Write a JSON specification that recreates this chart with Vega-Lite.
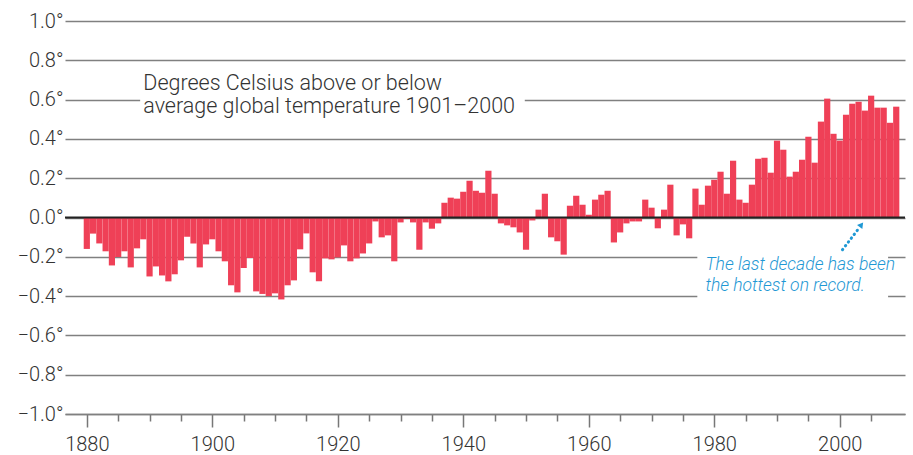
{
  "$schema": "https://vega.github.io/schema/vega-lite/v6.json",
  "width": 840,
  "height": 393,
  "autosize": "none",
  "padding": {"left": 65, "top": 21, "right": 8, "bottom": 41},
  "config": {"view": {"stroke": null}, "font": "Roboto"},
  "datasets": {
    "temps": [
      {"year":1880,"v":-0.160},{"year":1881,"v":-0.082},{"year":1882,"v":-0.132},{"year":1883,"v":-0.172},{"year":1884,"v":-0.244},
      {"year":1885,"v":-0.201},{"year":1886,"v":-0.172},{"year":1887,"v":-0.254},{"year":1888,"v":-0.157},{"year":1889,"v":-0.111},
      {"year":1890,"v":-0.300},{"year":1891,"v":-0.249},{"year":1892,"v":-0.295},{"year":1893,"v":-0.325},{"year":1894,"v":-0.289},
      {"year":1895,"v":-0.218},{"year":1896,"v":-0.098},{"year":1897,"v":-0.132},{"year":1898,"v":-0.254},{"year":1899,"v":-0.137},
      {"year":1900,"v":-0.111},{"year":1901,"v":-0.172},{"year":1902,"v":-0.223},{"year":1903,"v":-0.345},{"year":1904,"v":-0.381},
      {"year":1905,"v":-0.257},{"year":1906,"v":-0.206},{"year":1907,"v":-0.376},{"year":1908,"v":-0.389},{"year":1909,"v":-0.400},
      {"year":1910,"v":-0.386},{"year":1911,"v":-0.417},{"year":1912,"v":-0.345},{"year":1913,"v":-0.320},{"year":1914,"v":-0.162},
      {"year":1915,"v":-0.081},{"year":1916,"v":-0.279},{"year":1917,"v":-0.325},{"year":1918,"v":-0.208},{"year":1919,"v":-0.213},
      {"year":1920,"v":-0.203},{"year":1921,"v":-0.142},{"year":1922,"v":-0.223},{"year":1923,"v":-0.208},{"year":1924,"v":-0.183},
      {"year":1925,"v":-0.132},{"year":1926,"v":-0.020},{"year":1927,"v":-0.101},{"year":1928,"v":-0.091},{"year":1929,"v":-0.223},
      {"year":1930,"v":-0.025},{"year":1931,"v":-0.008},{"year":1932,"v":-0.025},{"year":1933,"v":-0.164},{"year":1934,"v":-0.025},
      {"year":1935,"v":-0.057},{"year":1936,"v":-0.030},{"year":1937,"v":0.075},{"year":1938,"v":0.101},{"year":1939,"v":0.096},
      {"year":1940,"v":0.131},{"year":1941,"v":0.187},{"year":1942,"v":0.136},{"year":1943,"v":0.126},{"year":1944,"v":0.238},
      {"year":1945,"v":0.121},{"year":1946,"v":-0.030},{"year":1947,"v":-0.040},{"year":1948,"v":-0.050},{"year":1949,"v":-0.076},
      {"year":1950,"v":-0.164},{"year":1951,"v":-0.015},{"year":1952,"v":0.040},{"year":1953,"v":0.121},{"year":1954,"v":-0.101},
      {"year":1955,"v":-0.121},{"year":1956,"v":-0.189},{"year":1957,"v":0.060},{"year":1958,"v":0.111},{"year":1959,"v":0.065},
      {"year":1960,"v":0.014},{"year":1961,"v":0.091},{"year":1962,"v":0.116},{"year":1963,"v":0.136},{"year":1964,"v":-0.127},
      {"year":1965,"v":-0.076},{"year":1966,"v":-0.030},{"year":1967,"v":-0.020},{"year":1968,"v":-0.020},{"year":1969,"v":0.091},
      {"year":1970,"v":0.050},{"year":1971,"v":-0.055},{"year":1972,"v":0.040},{"year":1973,"v":0.167},{"year":1974,"v":-0.091},
      {"year":1975,"v":-0.035},{"year":1976,"v":-0.106},{"year":1977,"v":0.147},{"year":1978,"v":0.065},{"year":1979,"v":0.162},
      {"year":1980,"v":0.192},{"year":1981,"v":0.233},{"year":1982,"v":0.121},{"year":1983,"v":0.289},{"year":1984,"v":0.091},
      {"year":1985,"v":0.075},{"year":1986,"v":0.167},{"year":1987,"v":0.299},{"year":1988,"v":0.304},{"year":1989,"v":0.228},
      {"year":1990,"v":0.391},{"year":1991,"v":0.345},{"year":1992,"v":0.208},{"year":1993,"v":0.233},{"year":1994,"v":0.294},
      {"year":1995,"v":0.411},{"year":1996,"v":0.279},{"year":1997,"v":0.488},{"year":1998,"v":0.605},{"year":1999,"v":0.426},
      {"year":2000,"v":0.391},{"year":2001,"v":0.523},{"year":2002,"v":0.579},{"year":2003,"v":0.589},{"year":2004,"v":0.544},
      {"year":2005,"v":0.620},{"year":2006,"v":0.559},{"year":2007,"v":0.559},{"year":2008,"v":0.482},{"year":2009,"v":0.564}
    ]
  },
  "layer": [
    {
      "data": {"values": [
        {"year": 1888.5, "year2": 1949.8, "v": 0.72, "v2": 0.5},
        {"year": 1977.3, "year2": 2007.7, "v": -0.15, "v2": -0.45}
      ]},
      "mark": {"type": "rect", "fill": "white"},
      "encoding": {
        "x": {"field": "year", "type": "quantitative",
          "scale": {"domain": [1877.32, 2009.6], "nice": false, "zero": false},
          "axis": {
            "values": [1880,1885,1890,1895,1900,1905,1910,1915,1920,1925,1930,1935,1940,1945,1950,1955,1960,1965,1970,1975,1980,1985,1990,1995,2000,2005],
            "tickCount": 60,
            "format": "d",
            "labelExpr": "datum.value % 20 === 0 ? datum.label : ''",
            "tickSize": {"condition": {"test": "datum.value % 20 === 0", "value": 13}, "value": 7},
            "tickColor": "#777", "tickWidth": 1.5,
            "domainColor": "#808080", "domainWidth": 1.5,
            "grid": false, "labelFontSize": 20, "labelFontWeight": 300, "labelColor": "#333",
            "labelPadding": 7, "labelFont": "Roboto", "labelOverlap": false, "title": null
          }},
        "x2": {"field": "year2"},
        "y": {"field": "v", "type": "quantitative",
          "scale": {"domain": [-1, 1], "nice": false, "zero": false},
          "axis": {
            "values": [-1,-0.8,-0.6,-0.4,-0.2,0,0.2,0.4,0.6,0.8,1],
            "tickCount": 30,
            "labelExpr": "(datum.value < -0.001 ? '\u2212' : '') + format(abs(datum.value), '.1f') + '\u00b0'",
            "grid": true, "gridColor": "#808080", "gridWidth": 1.5,
            "domain": false, "ticks": false, "labelPadding": 2, "labelOverlap": false,
            "labelFontSize": 20, "labelFontWeight": 300, "labelColor": "#333", "labelFont": "Roboto", "title": null
          }},
        "y2": {"field": "v2"}
      }
    },
    {
      "data": {"name": "temps"},
      "mark": {"type": "bar", "color": "#ef4057", "width": 6.2},
      "encoding": {
        "x": {"field": "year", "type": "quantitative"},
        "y": {"field": "v", "type": "quantitative"},
        "y2": {"datum": 0}
      }
    },
    {
      "data": {"values": [{}]},
      "mark": {"type": "rule", "color": "#222", "strokeWidth": 2},
      "encoding": {"y": {"datum": 0, "type": "quantitative"}}
    },
    {
      "data": {"values": [{"year": 1889.0, "v": 0.65, "t": ["Degrees Celsius above or below", "average global temperature 1901\u20132000"]}]},
      "mark": {"type": "text", "align": "left", "baseline": "alphabetic", "fontSize": 21.5, "fontWeight": 300, "color": "#333", "lineHeight": 23, "font": "Roboto"},
      "encoding": {
        "x": {"field": "year", "type": "quantitative"},
        "y": {"field": "v", "type": "quantitative"},
        "text": {"field": "t"}
      }
    },
    {
      "data": {"values": [{"year": 1978.6, "v": -0.266, "t": ["The last decade has been", "the hottest on record."]}]},
      "mark": {"type": "text", "align": "left", "baseline": "alphabetic", "fontSize": 17.5, "fontWeight": 300, "fontStyle": "italic", "color": "#1f98d4", "lineHeight": 21, "font": "Roboto"},
      "encoding": {
        "x": {"field": "year", "type": "quantitative"},
        "y": {"field": "v", "type": "quantitative"},
        "text": {"field": "t"}
      }
    },
    {
      "data": {"values": [{"year": 2000.43, "v": -0.164}, {"year": 2003.0, "v": -0.057}]},
      "mark": {"type": "line", "color": "#1f98d4", "strokeWidth": 3, "strokeDash": [0.5, 4.3], "strokeCap": "round"},
      "encoding": {
        "x": {"field": "year", "type": "quantitative"},
        "y": {"field": "v", "type": "quantitative"}
      }
    },
    {
      "data": {"values": [{"year": 2003.45, "v": -0.037}]},
      "mark": {"type": "point", "shape": "triangle-up", "filled": true, "color": "#1f98d4", "size": 45, "angle": 37, "opacity": 1},
      "encoding": {
        "x": {"field": "year", "type": "quantitative"},
        "y": {"field": "v", "type": "quantitative"}
      }
    }
  ]
}
